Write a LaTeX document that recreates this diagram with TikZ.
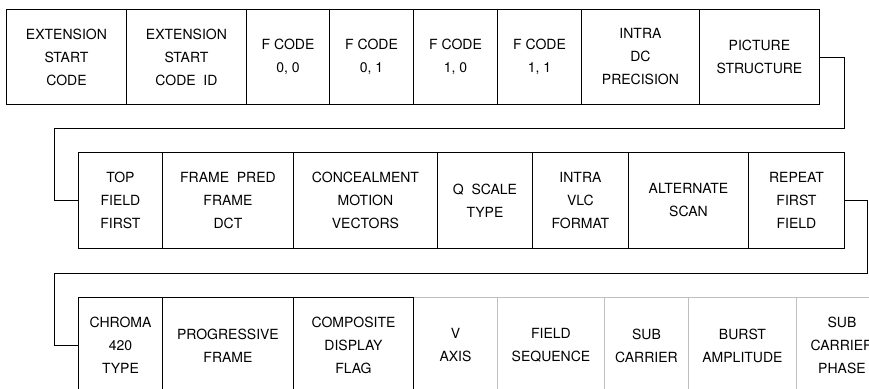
\documentclass[tikz,border=0pt]{standalone}
\usepackage{fontspec}
\setmainfont{TeX Gyre Heros}
\usetikzlibrary{positioning}

\begin{document}
\begin{tikzpicture}[
    x=1pt, y=-1pt,
    field/.style={draw, line width=0.9pt, anchor=north west, minimum height=95pt, inner sep=0pt, align=center, font=\fontsize{14}{23}\selectfont},
    spare/.style={field, draw=gray!50},
    link/.style={line width=0.9pt}
]
\useasboundingbox (0,0) rectangle (869,388);
\clip (0,0) rectangle (869,388);

% first row
\node[field, minimum width=120pt] (esc) at (6,9) {EXTENSION\\START\\CODE};
\node[field, minimum width=120pt] (escid) at (126,9) {EXTENSION\\START\\CODE~~ID};
\node[field, minimum width=83pt] (fc00) at (246,9) {F CODE\\0, 0};
\node[field, minimum width=84pt] (fc01) at (329,9) {F CODE\\0, 1};
\node[field, minimum width=84pt] (fc10) at (413,9) {F CODE\\1, 0};
\node[field, minimum width=84pt] (fc11) at (497,9) {F CODE\\1, 1};
\node[field, minimum width=118pt] (idp) at (581,9) {INTRA\\DC\\PRECISION};
\node[field, minimum width=120pt] (ps) at (699,9) {PICTURE\\STRUCTURE};

% second row
\node[field, minimum width=84pt, minimum height=96pt] (tff) at (78,152) {TOP\\FIELD\\FIRST};
\node[field, minimum width=131pt, minimum height=96pt] (fpfd) at (162,152) {FRAME~~PRED\\FRAME\\DCT};
\node[field, minimum width=144pt, minimum height=96pt] (cmv) at (293,152) {CONCEALMENT\\MOTION\\VECTORS};
\node[field, minimum width=95pt, minimum height=96pt] (qst) at (437,152) {Q~~SCALE\\TYPE};
\node[field, minimum width=96pt, minimum height=96pt] (ivf) at (532,152) {INTRA\\VLC\\FORMAT};
\node[field, minimum width=120pt, minimum height=96pt] (as) at (628,152) {ALTERNATE\\SCAN};
\node[field, minimum width=96pt, minimum height=96pt] (rff) at (748,152) {REPEAT\\FIRST\\FIELD};

% third row
\node[field, minimum width=84pt, minimum height=96pt] (c420) at (78,297) {CHROMA\\420\\TYPE};
\node[field, minimum width=131pt, minimum height=96pt] (pf) at (162,297) {PROGRESSIVE\\FRAME};
\node[field, minimum width=120pt, minimum height=96pt] (cdf) at (293,297) {COMPOSITE\\DISPLAY\\FLAG};
\node[spare, minimum width=84pt, minimum height=96pt] (vax) at (413,297) {V\\AXIS};
\node[spare, minimum width=107pt, minimum height=96pt] (fs) at (497,297) {FIELD\\SEQUENCE};
\node[spare, minimum width=84pt, minimum height=96pt] (sc) at (604,297) {SUB\\CARRIER};
\node[spare, minimum width=108pt, minimum height=96pt] (ba) at (688,297) {BURST\\AMPLITUDE};
\node[spare, minimum width=91pt, minimum height=96pt] (scp) at (796,297) {SUB\\CARRIER\\PHASE};
\draw[line width=0.9pt] (cdf.north east) -- (cdf.south east);

% wrap-around links
\coordinate (r1) at (844,128);
\coordinate (l1) at (54,128);
\coordinate (r2) at (867,273);
\coordinate (l2) at (54,273);
\draw[link] (ps.east) -| (r1) -- (l1) |- (tff.west);
\draw[link] (rff.east) -| (r2) -- (l2) |- (c420.west);
\end{tikzpicture}
\end{document}
